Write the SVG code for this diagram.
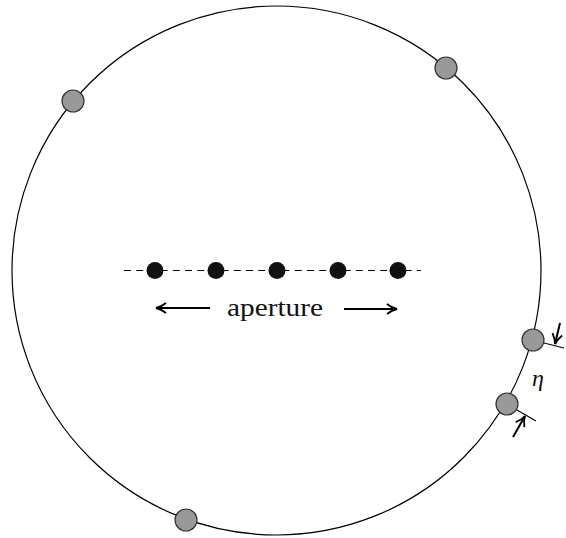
<svg xmlns="http://www.w3.org/2000/svg" width="566" height="538" viewBox="0 0 566 538">
<style>
.ring{fill:none;stroke:#000;stroke-width:1.2}
.rx{fill:#999;stroke:#333;stroke-width:1.2}
.tx{fill:#111}
.ln{stroke:#000;stroke-width:2;fill:none}
.thin{stroke:#000;stroke-width:1.1;fill:none}
.lbl{font-family:'Liberation Serif','Times New Roman','DejaVu Serif',serif;fill:#111}
</style>
<defs>
<marker id="ah" viewBox="0 0 12 12" refX="11" refY="6" markerWidth="12" markerHeight="12" markerUnits="userSpaceOnUse" orient="auto">
<path d="M1,1 Q6,5 11,6 Q6,7 1,11" fill="none" stroke="#000" stroke-width="1.8"/>
</marker>
</defs>
<g id="boundary"><circle class="ring" cx="276.5" cy="270.5" r="264.5"/></g>
<g id="connectors">
<line class="thin" x1="124" y1="270.5" x2="421" y2="270.5" stroke-dasharray="7 5.2"/>
<line class="ln" x1="210" y1="308" x2="156" y2="308" marker-end="url(#ah)"/>
<line class="ln" x1="344" y1="309" x2="397" y2="309" marker-end="url(#ah)"/>
<line class="thin" x1="544" y1="343" x2="564" y2="348"/>
<line class="thin" x1="517" y1="410" x2="536" y2="421"/>
<line class="ln" x1="560" y1="323" x2="555" y2="344" marker-end="url(#ah)"/>
<line class="ln" x1="513" y1="437" x2="525" y2="416" marker-end="url(#ah)"/>
</g>
<g id="rx1"><circle class="rx" cx="73" cy="101" r="11"/></g>
<g id="rx2"><circle class="rx" cx="446" cy="68" r="11"/></g>
<g id="rx3"><circle class="rx" cx="186" cy="520" r="11"/></g>
<g id="rx4"><circle class="rx" cx="533" cy="340" r="11"/></g>
<g id="rx5"><circle class="rx" cx="507" cy="404" r="11"/></g>
<g id="tx1"><circle class="tx" cx="155" cy="270.5" r="8.5"/></g>
<g id="tx2"><circle class="tx" cx="216" cy="270.5" r="8.5"/></g>
<g id="tx3"><circle class="tx" cx="277" cy="270.5" r="8.5"/></g>
<g id="tx4"><circle class="tx" cx="338" cy="270.5" r="8.5"/></g>
<g id="tx5"><circle class="tx" cx="398" cy="270.5" r="8.5"/></g>
<g id="labels">
<text class="lbl" x="227" y="316" font-size="25" textLength="96" lengthAdjust="spacingAndGlyphs">aperture</text>
<text class="lbl" x="532" y="386" font-size="24" font-style="italic">η</text>
</g>
</svg>
